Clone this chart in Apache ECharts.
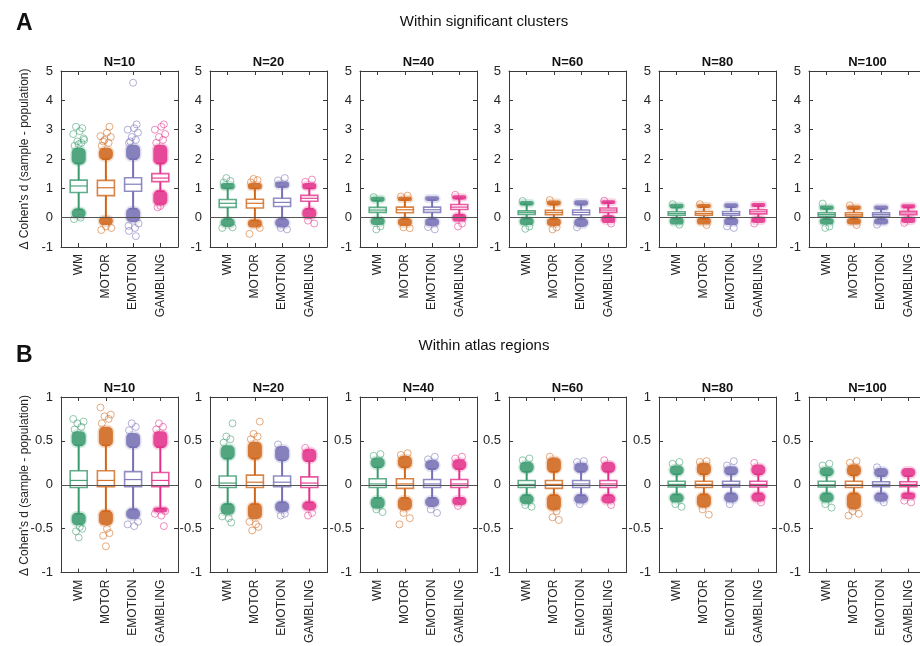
<!DOCTYPE html>
<html>
<head>
<meta charset="utf-8">
<script src="https://cdn.jsdelivr.net/npm/echarts@6/dist/echarts.min.js"></script>
<style>
  html, body { margin: 0; padding: 0; overflow: hidden; background: #fff; }
  #chart { width: 940px; height: 646px; }
</style>
</head>
<body>
<div id="chart"></div>
<script>
var tasks = ['WM', 'MOTOR', 'EMOTION', 'GAMBLING'];
var sampleSizes = [10, 20, 40, 60, 80, 100];
var taskColors = ['#3a9a6e', '#d0661a', '#7670b4', '#e2318a'];
var clusterTicks = [-1, 0, 1, 2, 3, 4, 5];
var atlasTicks = [-1, -0.5, 0, 0.5, 1];

// one row per N: [low tail end, low whisker, q1, median, q3, high whisker, high tail end]
var clusterWM = [
  [0.02, 0.28, 0.86, 1.08, 1.28, 1.85, 2.35],
  [-0.28, -0.05, 0.35, 0.49, 0.62, 1.0, 1.15],
  [-0.22, -0.03, 0.18, 0.26, 0.35, 0.58, 0.68],
  [-0.22, -0.04, 0.11, 0.17, 0.23, 0.45, 0.53],
  [-0.2, -0.04, 0.08, 0.14, 0.2, 0.35, 0.44],
  [-0.2, -0.05, 0.05, 0.11, 0.17, 0.3, 0.38]
];
var clusterMOTOR = [
  [-0.22, 0.0, 0.75, 1.02, 1.27, 2.0, 2.35],
  [-0.3, -0.1, 0.33, 0.49, 0.63, 1.0, 1.15],
  [-0.25, -0.05, 0.17, 0.27, 0.36, 0.6, 0.68],
  [-0.25, -0.05, 0.1, 0.17, 0.25, 0.45, 0.55],
  [-0.2, -0.04, 0.08, 0.14, 0.21, 0.36, 0.43],
  [-0.2, -0.05, 0.05, 0.1, 0.17, 0.3, 0.38]
];
var clusterEMOTION = [
  [-0.12, 0.3, 0.9, 1.14, 1.36, 2.0, 2.45],
  [-0.3, -0.05, 0.38, 0.52, 0.66, 1.05, 1.2],
  [-0.25, -0.05, 0.18, 0.27, 0.36, 0.6, 0.7],
  [-0.28, -0.05, 0.1, 0.18, 0.26, 0.45, 0.56],
  [-0.22, -0.04, 0.08, 0.14, 0.21, 0.36, 0.46],
  [-0.2, -0.05, 0.05, 0.11, 0.17, 0.3, 0.38]
];
var clusterGAMBLING = [
  [0.45, 0.9, 1.23, 1.35, 1.5, 1.85, 2.45],
  [0.0, 0.3, 0.56, 0.66, 0.76, 1.0, 1.15],
  [-0.1, 0.1, 0.28, 0.36, 0.45, 0.65, 0.73],
  [-0.15, 0.05, 0.18, 0.26, 0.33, 0.5, 0.56],
  [-0.15, 0.0, 0.13, 0.2, 0.27, 0.4, 0.47],
  [-0.15, 0.0, 0.1, 0.16, 0.22, 0.35, 0.42]
];

// isolated outliers beyond the dense tails, one list per N
var clusterWMOut = [
  [2.45, 2.55, 2.6, 2.7, 2.85, 2.95, 3.05, 3.1, 2.5, 2.65, -0.05, 0.0],
  [1.2, 1.25, 1.35, -0.33, -0.35],
  [0.7, -0.3, -0.4],
  [0.57, -0.3, -0.38],
  [0.46, -0.24],
  [0.48, -0.3, -0.35]
];
var clusterMOTOROut = [
  [2.45, 2.55, 2.65, 2.75, 2.78, 2.9, 3.1, 2.6, -0.3, -0.35, -0.42],
  [1.2, 1.28, 1.32, -0.35, -0.55],
  [0.72, 0.75, -0.33, -0.36],
  [0.6, -0.33, -0.4],
  [0.46, -0.25],
  [0.42, -0.25]
];
var clusterEMOTIONOut = [
  [2.55, 2.65, 2.75, 2.9, 3.0, 3.05, 3.18, 2.6, 4.6, -0.2, -0.28, -0.35, -0.45, -0.63],
  [1.27, 1.35, -0.35, -0.4],
  [-0.32, -0.4],
  [-0.33],
  [-0.3, -0.35],
  [-0.24]
];
var clusterGAMBLINGOut = [
  [2.55, 2.65, 2.75, 2.85, 3.0, 3.1, 3.18, 0.35, 0.4],
  [1.22, 1.3, -0.1, -0.2],
  [0.78, -0.2, -0.3],
  [0.58, -0.2],
  [-0.2],
  [-0.18]
];

var atlasWM = [
  [-0.45, -0.33, -0.03, 0.05, 0.16, 0.45, 0.6],
  [-0.33, -0.22, -0.03, 0.02, 0.1, 0.3, 0.44],
  [-0.26, -0.15, -0.03, 0.01, 0.07, 0.2, 0.3],
  [-0.21, -0.12, -0.03, 0.005, 0.05, 0.15, 0.25],
  [-0.19, -0.11, -0.025, 0.005, 0.04, 0.12, 0.21],
  [-0.19, -0.1, -0.025, 0.0, 0.04, 0.11, 0.19]
];
var atlasMOTOR = [
  [-0.45, -0.3, -0.02, 0.05, 0.16, 0.45, 0.65],
  [-0.38, -0.22, -0.03, 0.03, 0.11, 0.3, 0.48],
  [-0.28, -0.15, -0.04, 0.01, 0.07, 0.2, 0.32],
  [-0.28, -0.12, -0.04, 0.005, 0.05, 0.15, 0.3],
  [-0.25, -0.11, -0.03, 0.005, 0.04, 0.12, 0.24],
  [-0.27, -0.1, -0.03, 0.0, 0.04, 0.11, 0.22]
];
var atlasEMOTION = [
  [-0.38, -0.28, -0.02, 0.06, 0.15, 0.43, 0.58],
  [-0.3, -0.2, -0.02, 0.03, 0.1, 0.28, 0.43],
  [-0.24, -0.15, -0.03, 0.01, 0.06, 0.18, 0.27],
  [-0.2, -0.12, -0.03, 0.01, 0.05, 0.15, 0.24],
  [-0.19, -0.1, -0.025, 0.005, 0.04, 0.12, 0.2],
  [-0.18, -0.1, -0.02, 0.005, 0.035, 0.1, 0.18]
];
var atlasGAMBLING = [
  [-0.3, -0.27, -0.02, 0.05, 0.14, 0.43, 0.6],
  [-0.28, -0.2, -0.03, 0.02, 0.09, 0.27, 0.4],
  [-0.22, -0.15, -0.03, 0.01, 0.06, 0.18, 0.28],
  [-0.2, -0.12, -0.03, 0.01, 0.05, 0.15, 0.25],
  [-0.18, -0.1, -0.025, 0.005, 0.04, 0.12, 0.22],
  [-0.15, -0.1, -0.02, 0.005, 0.035, 0.1, 0.18]
];

var atlasWMOut = [
  [0.63, 0.66, 0.7, 0.72, 0.75, -0.48, -0.5, -0.53, -0.6],
  [0.48, 0.52, 0.55, 0.7, -0.36, -0.38, -0.43],
  [0.33, 0.35, -0.28, -0.31],
  [0.28, 0.3, -0.23, -0.25],
  [0.24, 0.26, -0.22, -0.25],
  [0.22, 0.24, -0.22, -0.26]
];
var atlasMOTOROut = [
  [0.7, 0.75, 0.78, 0.8, 0.88, -0.5, -0.55, -0.58, -0.7],
  [0.52, 0.55, 0.58, 0.72, -0.42, -0.45, -0.48, -0.52],
  [0.34, 0.36, -0.32, -0.38, -0.45],
  [0.32, -0.3, -0.37, -0.4],
  [0.26, 0.27, -0.28, -0.34],
  [0.25, 0.27, -0.3, -0.33, -0.35]
];
var atlasEMOTIONOut = [
  [0.62, 0.66, 0.7, -0.42, -0.45, -0.47],
  [0.46, -0.33, -0.35],
  [0.29, 0.32, -0.28, -0.32],
  [0.26, 0.27, -0.22],
  [0.22, 0.27, -0.22],
  [0.2, -0.2]
];
var atlasGAMBLINGOut = [
  [0.63, 0.66, 0.7, -0.3, -0.33, -0.35, -0.47],
  [0.42, -0.32, -0.35],
  [0.3, 0.32, -0.24],
  [0.28, -0.23],
  [0.25, -0.2],
  [-0.18, -0.2]
];

var FONT = '"Liberation Sans", Arial, sans-serif';
var TEXT = '#262626';
var FRAME = '#3a3a3a';
var panelLefts = [61, 210, 360, 509, 659, 809];
var panelWidth = 117;
var jitter = [-0.15, 0.1, -0.05, 0.18, -0.2, 0.04, 0.13, -0.1, 0.0, 0.2, -0.17, 0.07];

var sections = [
  { top: 71, height: 176, ticks: clusterTicks,
    rows: [clusterWM, clusterMOTOR, clusterEMOTION, clusterGAMBLING],
    outs: [clusterWMOut, clusterMOTOROut, clusterEMOTIONOut, clusterGAMBLINGOut],
    letter: 'A', heading: 'Within significant clusters', letterY: 24, headingY: 22 },
  { top: 397, height: 177, ticks: atlasTicks,
    rows: [atlasWM, atlasMOTOR, atlasEMOTION, atlasGAMBLING],
    outs: [atlasWMOut, atlasMOTOROut, atlasEMOTIONOut, atlasGAMBLINGOut],
    letter: 'B', heading: 'Within atlas regions', letterY: 356, headingY: 346 }
];

function renderBox(params, api) {
  var x = api.value(0);
  var c = taskColors[x - 1];
  function py(i) { return api.coord([x, api.value(i)])[1]; }
  var cx = api.coord([x, 0])[0];
  var lo = py(1), lw = py(2), q1 = py(3), md = py(4), q3 = py(5), hw = py(6), hi = py(7);
  var bw = 8.5, kids = [];
  function seg(x1, y1, x2, y2, w, op) {
    kids.push({ type: 'line', shape: { x1: x1, y1: y1, x2: x2, y2: y2 },
      style: { stroke: c, lineWidth: w, opacity: op || 1 } });
  }
  function blob(ya, yb) {
    var top = Math.min(ya, yb), h = Math.abs(ya - yb);
    kids.push({ type: 'rect', shape: { x: cx - 8.5, y: top - 3, width: 17, height: h + 6, r: 7 },
      style: { fill: c, opacity: 0.22 } });
    kids.push({ type: 'rect', shape: { x: cx - 7, y: top - 1, width: 14, height: h + 2, r: 5 },
      style: { fill: c, opacity: 0.85 } });
  }
  seg(cx, q1, cx, lw, 2);
  seg(cx, q3, cx, hw, 2);
  seg(cx - 4, lw, cx + 4, lw, 1.5);
  seg(cx - 4, hw, cx + 4, hw, 1.5);
  blob(lw, lo);
  blob(hw, hi);
  kids.push({ type: 'rect', shape: { x: cx - bw, y: q3, width: 2 * bw, height: q1 - q3 },
    style: { fill: 'rgba(255,255,255,0.85)', stroke: c, lineWidth: 1.6, opacity: 0.8 } });
  seg(cx - bw, md, cx + bw, md, 1.2, 0.9);
  return { type: 'group', children: kids };
}

var grids = [], xAxes = [], yAxes = [], series = [], graphics = [];

sections.forEach(function (sec, s) {
  var ticks = sec.ticks;
  graphics.push({ type: 'text', x: 16, y: sec.letterY,
    style: { text: sec.letter, font: 'bold 23px ' + FONT, fill: '#111', verticalAlign: 'middle' } });
  graphics.push({ type: 'text', x: 484, y: sec.headingY,
    style: { text: sec.heading, font: '15px ' + FONT, fill: '#111', align: 'center', verticalAlign: 'middle' } });
  graphics.push({ type: 'text', x: 25, y: sec.top + sec.height / 2, rotation: Math.PI / 2,
    style: { text: '\u0394 Cohen\'s d (sample - population)', font: '12px ' + FONT, fill: TEXT,
      align: 'center', verticalAlign: 'middle' } });

  sampleSizes.forEach(function (n, p) {
    var g = grids.length;
    grids.push({ left: panelLefts[p], top: sec.top, width: panelWidth, height: sec.height,
      containLabel: false, show: false });
    graphics.push({ type: 'text', x: panelLefts[p] + panelWidth / 2, y: sec.top - 9,
      style: { text: 'N=' + n, font: 'bold 13px ' + FONT, fill: '#111', align: 'center', verticalAlign: 'middle' } });

    var xBase = { type: 'value', gridIndex: g, min: 0.35, max: 4.65,
      splitLine: { show: false },
      axisLine: { show: true, onZero: false, lineStyle: { color: FRAME, width: 1 } },
      axisTick: { show: true, inside: true, length: 4, customValues: [1, 2, 3, 4], lineStyle: { color: FRAME } } };
    xAxes.push(Object.assign({}, xBase, { position: 'bottom',
      axisLabel: { show: true, rotate: 90, margin: 7, fontSize: 12, color: TEXT, fontFamily: FONT,
        customValues: [1, 2, 3, 4], formatter: function (v) { return tasks[Math.round(v) - 1]; } } }));
    xAxes.push(Object.assign({}, xBase, { position: 'top', axisLabel: { show: false } }));

    var yBase = { type: 'value', gridIndex: g, min: ticks[0], max: ticks[ticks.length - 1],
      interval: ticks[1] - ticks[0], splitLine: { show: false },
      axisLine: { show: true, onZero: false, lineStyle: { color: FRAME, width: 1 } },
      axisTick: { show: true, inside: true, length: 4, lineStyle: { color: FRAME } } };
    yAxes.push(Object.assign({}, yBase, { position: 'left',
      axisLabel: { show: true, margin: 8, fontSize: 13, color: TEXT, fontFamily: FONT } }));
    yAxes.push(Object.assign({}, yBase, { position: 'right', axisLabel: { show: false } }));

    var boxData = [], outData = [];
    tasks.forEach(function (t, k) {
      boxData.push([k + 1].concat(sec.rows[k][p]));
      sec.outs[k][p].forEach(function (v, i) {
        outData.push({ value: [k + 1 + jitter[i % jitter.length], v],
          itemStyle: { borderColor: taskColors[k] } });
      });
    });

    series.push({ type: 'custom', xAxisIndex: 2 * g, yAxisIndex: 2 * g, silent: true,
      renderItem: renderBox, encode: { x: 0, y: [1, 2, 3, 4, 5, 6, 7] }, data: boxData, z: 3 });
    series.push({ type: 'scatter', xAxisIndex: 2 * g, yAxisIndex: 2 * g, silent: true,
      symbol: 'circle', symbolSize: 7, z: 4,
      itemStyle: { color: 'rgba(255,255,255,0)', borderWidth: 1, opacity: 0.55 },
      data: outData,
      markLine: { silent: true, symbol: 'none', label: { show: false },
        lineStyle: { color: '#555', width: 1.2, type: 'solid' },
        data: [{ yAxis: 0 }] } });
  });
});

var chart = echarts.init(document.getElementById('chart'), null, { renderer: 'canvas' });
chart.setOption({
  animation: false,
  backgroundColor: '#fff',
  textStyle: { fontFamily: FONT },
  grid: grids,
  xAxis: xAxes,
  yAxis: yAxes,
  graphic: graphics,
  series: series
});
</script>
</body>
</html>
